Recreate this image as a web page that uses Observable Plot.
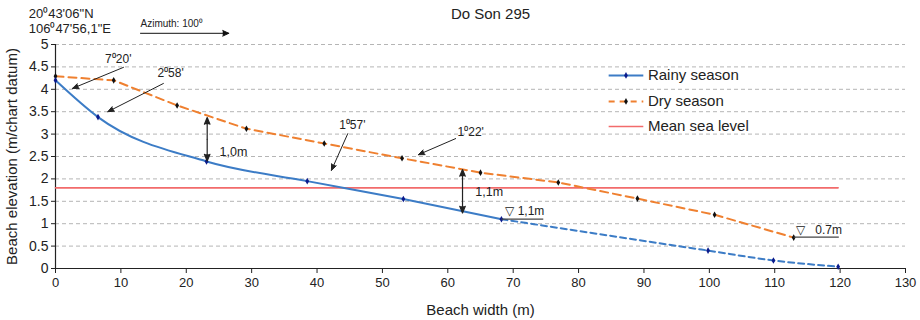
<!DOCTYPE html>
<html><head><meta charset="utf-8">
<script src="https://cdn.jsdelivr.net/npm/d3@7"></script>
<script src="https://cdn.jsdelivr.net/npm/@observablehq/plot@0.6"></script>
<style>
body{margin:0;background:#fff;font-family:"Liberation Sans",Arial,sans-serif}
#chart{position:relative;width:920px;height:320px}
</style>
</head><body><div id="chart"></div>
<script>
// ---- data ----
const rainyX = [0, 6.5, 23.1, 38.5, 53.2, 68.2, 99.8, 109.8, 119.7];
const rainyY = [4.2, 3.38, 2.39, 1.95, 1.55, 1.1, 0.4, 0.18, 0.04];
const rainySolidCount = 6; // surveyed (solid) part ends at x = 68.2
const dryX = [0, 8.9, 18.6, 29.2, 41.1, 53.0, 65.0, 76.9, 89.0, 100.8, 112.9];
const dryY = [4.29, 4.2, 3.64, 3.12, 2.79, 2.46, 2.14, 1.92, 1.56, 1.2, 0.69];
const mslX = [0, 119.7];
const mslLevel = 1.8;
const xTicks = [0,10,20,30,40,50,60,70,80,90,100,110,120,130];
const yTicks = [0,0.5,1,1.5,2,2.5,3,3.5,4,4.5,5];
const seriesNames = ["Rainy season", "Dry season", "Mean sea level"];
const seriesColors = ["#3c7cc6", "#ef8030", "#f26b6b"];
const titleText = "Do Son 295";
const coordLines = ["20⁰43'06\"N", "106⁰47'56,1\"E"];
const azimuthText = "Azimuth: 100⁰";
const xLabel = "Beach width (m)";
const yLabel = "Beach elevation (m/chart datum)";

// angle annotations: label, text position, arrow from -> to
const angleNotes = [
  {label:"7⁰20'", tx:9.6, ty:4.67, x1:10.4, y1:4.49, x2:2.6, y2:4.02},
  {label:"2⁰58'", tx:17.6, ty:4.35, x1:16.5, y1:4.13, x2:8.0, y2:3.5},
  {label:"1⁰57'", tx:45.4, ty:3.19, x1:44.7, y1:3.01, x2:42.2, y2:2.19},
  {label:"1⁰22'", tx:63.5, ty:3.04, x1:61.2, y1:2.9, x2:55.5, y2:2.54}
];
const gapNotes = [
  {label:"1,0m", x:23.2, yTop:3.37, yBot:2.4, tx:25.1, ty:2.6},
  {label:"1,1m", x:62.25, yTop:2.21, yBot:1.24, tx:64.2, ty:1.7}
];
const levelNotes = [
  {label:"▽ 1,1m", x1:68.2, x2:74.6, y:1.1, tx:68.8, ty:1.27},
  {label:"▽   0.7m", x1:112.9, x2:119.8, y:0.7, tx:113.3, ty:0.86}
];

// ---- tables ----
const rainy = rainyX.map((x,i)=>({x, y:rainyY[i]}));
const rainySolid = rainy.slice(0, rainySolidCount);
const rainyDash = rainy.slice(rainySolidCount-1);
const dry = dryX.map((x,i)=>({x, y:dryY[i]}));
const msl = mslX.map(x=>({x, y:mslLevel}));
// double arrows: two heads drawn from the midpoint outward
const gapArrows = gapNotes.flatMap(d=>{
  const m = (d.yTop + d.yBot)/2;
  return [{x:d.x, y1:m, y2:d.yTop}, {x:d.x, y1:m, y2:d.yBot}];
});

// legend placement (data units inside the frame)
const legend = seriesNames.map((name,i)=>({name, color:seriesColors[i], y:[4.31,3.73,3.17][i], x1:84.6, x2:89.9, tx:90.6}));

const font = '"Liberation Sans", Arial, sans-serif';

const chart = Plot.plot({
  width: 920, height: 320,
  marginLeft: 55, marginRight: 15, marginTop: 44, marginBottom: 52,
  x: {domain:[0,130]},
  y: {domain:[0,5]},
  style: {fontFamily: font, fontSize: "12px", color: "#222", background: "#fff", overflow: "visible"},
  marks: [
    Plot.gridY(yTicks.filter(d=>d>0), {stroke:"#b5b5b5", strokeOpacity:1, strokeDasharray:"4,3"}),
    Plot.axisX({ticks:xTicks, tickSize:5, tickPadding:4, fontSize:13, label:null, stroke:"#222"}),
    Plot.axisY({ticks:yTicks, tickSize:4, tickPadding:3, fontSize:14, tickFormat:d=>String(d), label:null, stroke:"#222"}),
    Plot.ruleX([0], {stroke:"#222", strokeWidth:1.2}),
    Plot.ruleY([0], {stroke:"#222", strokeWidth:1.2}),
    // mean sea level
    Plot.line(msl, {x:"x", y:"y", stroke:seriesColors[2], strokeWidth:1.6}),
    // dry season
    Plot.line(dry, {x:"x", y:"y", stroke:seriesColors[1], strokeWidth:2, strokeDasharray:"8,5"}),
    Plot.dot(dry, {x:"x", y:"y", symbol:"diamond", r:2, fill:"#111"}),
    // rainy season
    Plot.line(rainySolid, {x:"x", y:"y", stroke:seriesColors[0], strokeWidth:2, curve:"monotone-x"}),
    Plot.line(rainyDash, {x:"x", y:"y", stroke:seriesColors[0], strokeWidth:2, strokeDasharray:"6,4", curve:"monotone-x"}),
    Plot.dot(rainy, {x:"x", y:"y", symbol:"diamond", r:2, fill:"#0a1a8c"}),
    // angle annotations
    Plot.arrow(angleNotes, {x1:"x1", y1:"y1", x2:"x2", y2:"y2", stroke:"#222", fill:"#222", strokeWidth:1, headLength:10, headAngle:45}),
    Plot.text(angleNotes, {x:"tx", y:"ty", text:"label", fontSize:12, fill:"#222"}),
    // gap (double) arrows
    Plot.arrow(gapArrows, {x1:"x", x2:"x", y1:"y1", y2:"y2", stroke:"#222", fill:"#222", strokeWidth:1.2, headLength:9, headAngle:45}),
    Plot.text(gapNotes, {x:"tx", y:"ty", text:"label", textAnchor:"start", fontSize:12.5, fill:"#222"}),
    // water level marks
    Plot.link(levelNotes, {x1:"x1", x2:"x2", y1:"y", y2:"y", stroke:"#444", strokeWidth:1.2}),
    Plot.text(levelNotes, {x:"tx", y:"ty", text:"label", textAnchor:"start", fontSize:12, fill:"#222"}),
    // legend
    Plot.link(legend.slice(0,1), {x1:"x1", x2:"x2", y1:"y", y2:"y", stroke:"color", strokeWidth:2}),
    Plot.link(legend.slice(1,2), {x1:"x1", x2:"x2", y1:"y", y2:"y", stroke:"color", strokeWidth:2, strokeDasharray:"6,5"}),
    Plot.link(legend.slice(2,3), {x1:"x1", x2:"x2", y1:"y", y2:"y", stroke:"color", strokeWidth:1.6}),
    Plot.dot(legend.slice(0,1), {x:d=>(d.x1+d.x2)/2, y:"y", symbol:"diamond", r:2, fill:"#0a1a8c"}),
    Plot.dot(legend.slice(1,2), {x:d=>(d.x1+d.x2)/2, y:"y", symbol:"diamond", r:2, fill:"#111"}),
    Plot.text(legend, {x:"tx", y:"y", text:"name", textAnchor:"start", fontSize:15, fill:"#222"}),
    // azimuth
    Plot.arrow([{x1:13, x2:26.5, y:5.25}], {x1:"x1", x2:"x2", y1:"y", y2:"y", stroke:"#111", fill:"#111", strokeWidth:1, headLength:10, headAngle:50}),
    Plot.text([azimuthText], {x:13, y:5.46, text:d=>d, textAnchor:"start", fontSize:10, fill:"#222"}),
    // titles
    Plot.text([titleText], {frameAnchor:"top", dx:10, dy:-36, text:d=>d, fontSize:15, fill:"#222"}),
    Plot.text(coordLines, {x:-4.1, y:(d,i)=>[5.68,5.36][i], text:d=>d, textAnchor:"start", fontSize:13, fill:"#222"}),
    Plot.text([xLabel], {frameAnchor:"bottom", dy:46, text:d=>d, fontSize:15, fill:"#222"}),
    Plot.text([yLabel], {x:-6.6, y:2.5, rotate:-90, text:d=>d, fontSize:15, fill:"#222"})
  ]
});
document.getElementById("chart").appendChild(chart);
</script>
</body></html>
